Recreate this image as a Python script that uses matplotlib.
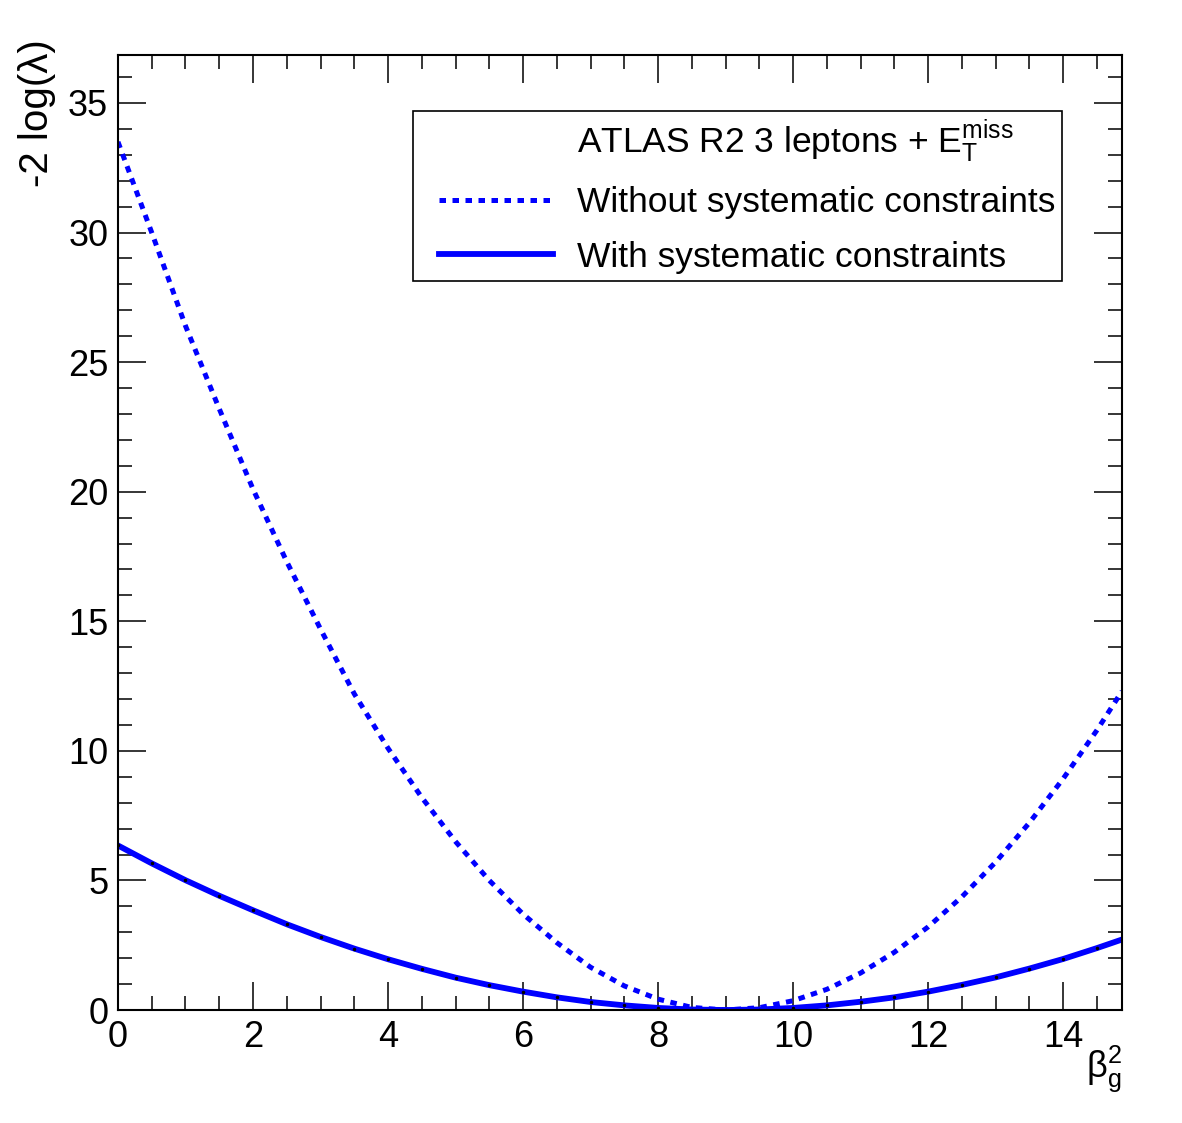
import matplotlib
matplotlib.use("Agg")
from matplotlib import pyplot as plt
from matplotlib.lines import Line2D
from matplotlib.legend_handler import HandlerLine2D
from matplotlib.ticker import MultipleLocator

plt.rcParams['font.family'] = ['Liberation Sans', 'DejaVu Sans']
plt.rcParams['mathtext.fontset'] = 'custom'
plt.rcParams['mathtext.rm'] = 'Liberation Sans'
plt.rcParams['mathtext.it'] = 'Liberation Sans:italic'

# beta_g^2 values and -2 log(lambda)
beta2 = [0, 0.5, 1, 1.5, 2, 2.5, 3, 3.5, 4, 4.5, 5, 5.5, 6, 6.5, 7, 7.5,
         8, 8.5, 9, 9.5, 10, 10.5, 11, 11.5, 12, 12.5, 13, 13.5, 14, 14.5, 14.87]
no_syst = [33.5, 30.0, 26.4, 23.2, 20.1, 17.3, 14.7, 12.2, 10.1, 8.2, 6.5, 5.0,
           3.7, 2.6, 1.65, 0.93, 0.42, 0.1, 0.0, 0.09, 0.36, 0.8, 1.43, 2.23,
           3.21, 4.37, 5.71, 7.23, 8.93, 10.8, 12.3]
with_syst = [6.35, 5.66, 5.01, 4.41, 3.85, 3.31, 2.82, 2.37, 1.96, 1.59, 1.25, 0.96,
             0.71, 0.49, 0.31, 0.18, 0.08, 0.02, 0.0, 0.02, 0.08, 0.18, 0.32, 0.49,
             0.71, 0.97, 1.26, 1.6, 1.97, 2.39, 2.72]

fig = plt.figure(figsize=(11.82, 11.23), dpi=100)
ax = fig.add_axes([0.0998, 0.1006, 0.8494, 0.8504])

l1, = ax.plot(beta2, no_syst, color='#0000ff', lw=3.6, solid_capstyle='butt')
l1.set_dashes([1.3, 1.3])
l2, = ax.plot(beta2, with_syst, color='#0000ff', lw=4.2)
ax.plot(beta2, with_syst, ls='none', marker='o', ms=1.5, color='black')

ax.set_xlim(0, 14.87)
ax.set_ylim(0, 36.85)
ax.xaxis.set_major_locator(MultipleLocator(2))
ax.xaxis.set_minor_locator(MultipleLocator(0.5))
ax.yaxis.set_major_locator(MultipleLocator(5))
ax.yaxis.set_minor_locator(MultipleLocator(1))
ax.tick_params(which='both', direction='in', top=True, right=True, width=1.1,
               labelsize=26)
ax.tick_params(which='major', length=20, pad=7)
ax.tick_params(which='minor', length=10)
for s in ax.spines.values():
    s.set_linewidth(1.5)

ax.set_ylabel('-2 log(λ)', fontsize=29, loc='top')
ax.yaxis.set_label_coords(-0.062, 1.016)
ax.set_xlabel(r'$\mathregular{\beta_{g}^{2}}$', fontsize=26, loc='right')
ax.xaxis.set_label_coords(1.0, -0.035)

blank, = ax.plot([], [], lw=0)
leg = ax.legend([blank, l1, l2],
                [r'ATLAS R2 3 leptons + $\mathregular{E_{T}^{miss}}$',
                 'Without systematic constraints', 'With systematic constraints'],
                handler_map={Line2D: HandlerLine2D(xpad=0.53)},
                loc='upper left', bbox_to_anchor=(0.294, 0.941), fontsize=25.5,
                fancybox=False, framealpha=1, edgecolor='black',
                handlelength=3.75, handletextpad=0.675, labelspacing=0.6,
                borderpad=0.2, borderaxespad=0)
leg.get_frame().set_linewidth(1.2)

fig.savefig('out.png', dpi=100)
